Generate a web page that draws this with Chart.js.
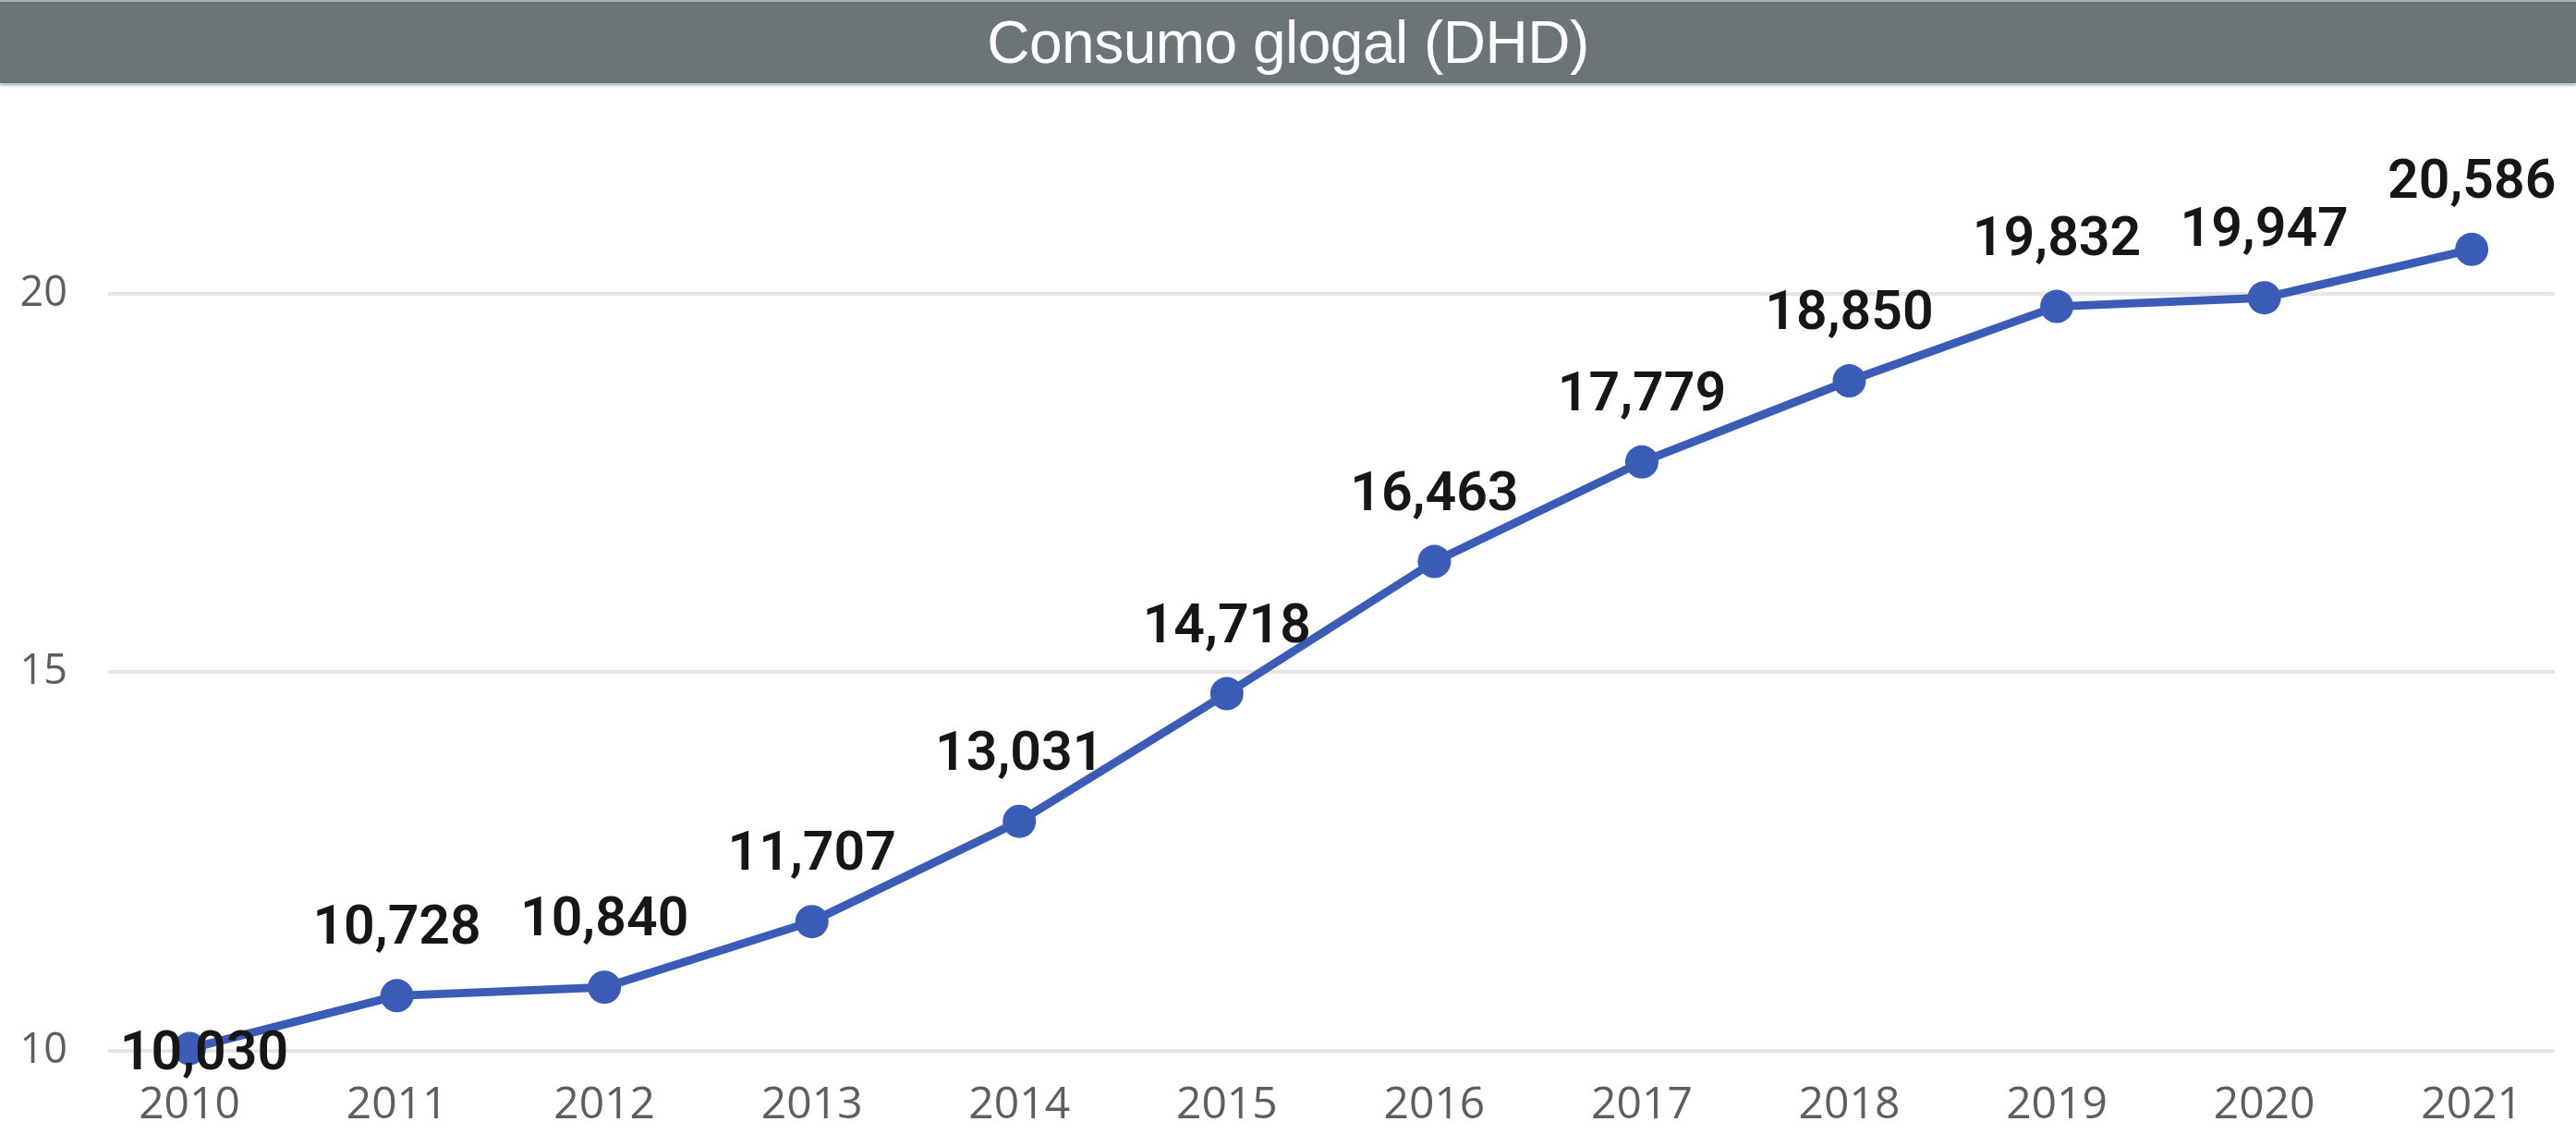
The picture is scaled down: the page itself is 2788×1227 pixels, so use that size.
<!DOCTYPE html>
<html>
<head>
<meta charset="utf-8">
<script src="https://cdn.jsdelivr.net/npm/chart.js@4.4.1/dist/chart.umd.min.js"></script>
<style>
  html, body { margin: 0; padding: 0; background: #ffffff; }
  #wrap { position: relative; width: 2788px; height: 1227px; overflow: hidden; }
  #titlebar {
    position: absolute; left: 0; top: 0; width: 2788px; height: 90px;
    background: #6c7478; border-top: 2px solid #a9aeb1; box-sizing: border-box;
    box-shadow: 0 3px 2px rgba(120,125,128,0.45);
    color: #ffffff; font-family: "Liberation Sans", Arial, sans-serif; font-size: 64px;
    line-height: 88px; text-align: center; letter-spacing: -0.5px;
  }
  canvas { position: absolute; left: 0; top: 0; }
</style>
</head>
<body>
<div id="wrap">
  <canvas id="c" width="2788" height="1227"></canvas>
  <div id="titlebar">Consumo glogal (DHD)</div>
</div>
<script>
const title = "Consumo glogal (DHD)";
const years = [2010, 2011, 2012, 2013, 2014, 2015, 2016, 2017, 2018, 2019, 2020, 2021];
const values = [10.030, 10.728, 10.840, 11.707, 13.031, 14.718, 16.463, 17.779, 18.850, 19.832, 19.947, 20.586];
const valueLabels = ["10,030", "10,728", "10,840", "11,707", "13,031", "14,718", "16,463", "17,779", "18,850", "19,832", "19,947", "20,586"];
const yTicks = [10, 15, 20];

const BLUE = '#3a5bb6';

const labelPlugin = {
  id: 'valueLabels',
  afterDatasetsDraw(chart) {
    const ctx = chart.ctx;
    const meta = chart.getDatasetMeta(0);
    ctx.save();
    ctx.font = '600 59px Roboto, "DejaVu Sans Condensed", sans-serif';
    ctx.fillStyle = '#161616';
    ctx.textAlign = 'center';
    ctx.textBaseline = 'alphabetic';
    meta.data.forEach((pt, i) => {
      if (i === 0) {
        ctx.fillText(valueLabels[i], pt.x + 16, pt.y + 22);
      } else {
        ctx.fillText(valueLabels[i], pt.x, pt.y - 56);
      }
    });
    ctx.restore();
  }
};

new Chart(document.getElementById('c'), {
  type: 'line',
  data: {
    datasets: [{
      label: title,
      data: years.map((yr, i) => ({ x: yr, y: values[i] })),
      borderColor: BLUE,
      backgroundColor: BLUE,
      borderWidth: 9,
      pointRadius: 18,
      pointHoverRadius: 18,
      pointBackgroundColor: BLUE,
      pointBorderWidth: 0,
      tension: 0,
      clip: false
    }]
  },
  options: {
    responsive: false,
    animation: false,
    devicePixelRatio: 1,
    layout: { padding: { left: 0, right: 23, top: 154, bottom: 0 } },
    plugins: { legend: { display: false }, tooltip: { enabled: false }, title: { display: false } },
    scales: {
      x: {
        type: 'linear',
        min: 2009.608,
        max: 2021.4,
        afterBuildTicks: (s) => { s.ticks = years.map(v => ({ value: v })); },
        afterFit: (s) => { s.height = 90; },
        grid: { display: false, drawTicks: false },
        border: { display: false },
        ticks: {
          autoSkip: false,
          maxRotation: 0,
          padding: 31,
          color: '#605e5c',
          font: { family: '"Open Sans", "Noto Sans", sans-serif', size: 48 },
          callback: (v) => String(v)
        }
      },
      y: {
        min: 10,
        max: 22,
        afterBuildTicks: (s) => { s.ticks = yTicks.map(v => ({ value: v })); },
        afterFit: (s) => { s.width = 117; },
        grid: { color: '#e6e4e4', lineWidth: 4, drawTicks: false },
        border: { display: false },
        ticks: {
          padding: 44,
          color: '#605e5c',
          font: { family: '"Open Sans", "Noto Sans", sans-serif', size: 45 },
          callback: (v) => String(v)
        }
      }
    }
  },
  plugins: [labelPlugin]
});
</script>
</body>
</html>
